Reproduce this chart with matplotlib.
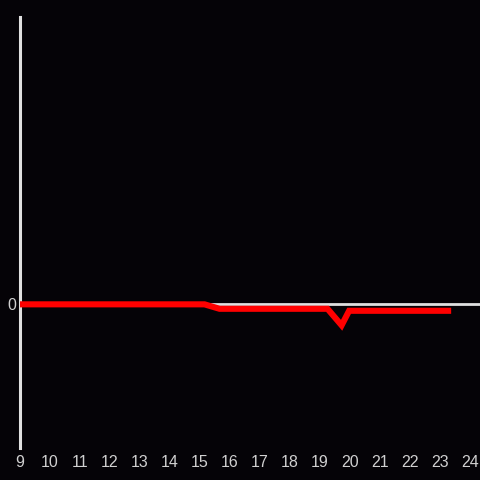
import matplotlib
matplotlib.use("Agg")
import matplotlib.pyplot as plt

hours = [9.0, 15.15, 15.65, 19.25, 19.72, 19.97, 23.27]
values = [0.0, 0.0, -0.031, -0.031, -0.146, -0.045, -0.045]
xticks = list(range(9, 25))

bg = "#050307"
fig = plt.figure(figsize=(4.8, 4.8), dpi=100, facecolor=bg)
ax = fig.add_axes([20/480, 32/480, 460/480, 431/480], facecolor=bg)
ax.set_xlim(9, 24.333)
ax.set_ylim(-1, 2)
ax.axhline(0, color="#e0e0e0", lw=2, zorder=1)
ax.plot(hours, values, color="#ff0000", lw=4.4, solid_capstyle="projecting",
        solid_joinstyle="miter", zorder=3)
for s in ["top", "right", "bottom"]:
    ax.spines[s].set_visible(False)
ax.spines["left"].set_color("#e0e0e0")
ax.spines["left"].set_linewidth(2.2)
ax.spines["left"].set_zorder(2)
ax.set_xticks(xticks)
ax.set_xticklabels([str(t) for t in xticks])
ax.set_yticks([0])
ax.set_yticklabels(["0"])
ax.tick_params(axis="both", length=0, colors="#d0d0d0", labelsize=11.5,
               labelfontfamily="Liberation Sans")
ax.tick_params(axis="x", pad=5)
ax.tick_params(axis="y", pad=3)
fig.savefig("out.png", dpi=100, facecolor=bg)
